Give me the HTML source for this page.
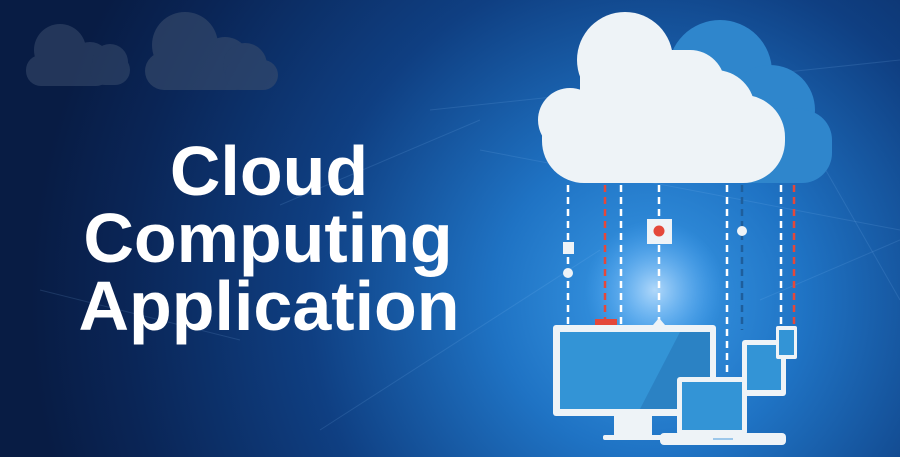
<!DOCTYPE html>
<html><head><meta charset="utf-8"><style>
html,body{margin:0;padding:0;width:900px;height:457px;overflow:hidden;background:#0a2450}
svg{display:block}
</style></head><body>
<svg width="900" height="457" viewBox="0 0 900 457" xmlns="http://www.w3.org/2000/svg">
<defs>
<radialGradient id="bg" cx="650" cy="300" r="620" gradientUnits="userSpaceOnUse">
<stop offset="0" stop-color="#3a9ae6"/>
<stop offset="0.25" stop-color="#1f73c4"/>
<stop offset="0.55" stop-color="#0f3f82"/>
<stop offset="0.85" stop-color="#0a2556"/>
<stop offset="1" stop-color="#081c44"/>
</radialGradient>
<radialGradient id="glow" cx="655" cy="290" r="70" gradientUnits="userSpaceOnUse">
<stop offset="0" stop-color="#cfe8ff" stop-opacity="0.8"/>
<stop offset="1" stop-color="#5ab0ff" stop-opacity="0"/>
</radialGradient>
</defs>
<rect width="900" height="457" fill="url(#bg)"/>
<rect width="900" height="457" fill="url(#glow)"/>
<g stroke="#8cc4f5" stroke-opacity="0.15" stroke-width="1">
<line x1="430" y1="110" x2="900" y2="60"/><line x1="480" y1="150" x2="900" y2="230"/>
<line x1="280" y1="205" x2="480" y2="120"/><line x1="320" y1="430" x2="600" y2="250"/>
<line x1="760" y1="300" x2="900" y2="240"/><line x1="820" y1="160" x2="900" y2="300"/>
<line x1="40" y1="290" x2="240" y2="340"/>
</g>
<g fill="#3a4d6d" opacity="0.55">
<circle cx="60" cy="50" r="26"/><circle cx="90" cy="62" r="20"/><rect x="26" y="55" width="85" height="31" rx="15"/>
<circle cx="110" cy="62" r="18"/><rect x="90" y="55" width="40" height="30" rx="15"/>
</g>
<g fill="#3a4d6d" opacity="0.6">
<circle cx="185" cy="45" r="33"/><circle cx="225" cy="62" r="25"/><rect x="145" y="52" width="110" height="38" rx="19"/>
<circle cx="245" cy="65" r="22"/><rect x="225" y="60" width="53" height="30" rx="15"/>
</g>
<g font-family="Liberation Sans, Arial, sans-serif" font-weight="bold" font-size="70" fill="#fff" text-anchor="middle">
<text x="269" y="195">Cloud</text>
<text x="268" y="262">Computing</text>
<text x="269" y="330">Application</text>
</g>
<g fill="#2f86cc">
<circle cx="720" cy="72" r="52"/><circle cx="770" cy="110" r="45"/><circle cx="795" cy="145" r="37"/>
<rect x="680" y="110" width="152" height="73" rx="30"/>
</g>
<g fill="#eef3f7">
<circle cx="625" cy="60" r="48"/><circle cx="570" cy="120" r="32"/><circle cx="715" cy="110" r="40"/>
<circle cx="690" cy="85" r="35"/>
<rect x="542" y="95" width="243" height="88" rx="42"/>
<rect x="580" y="50" width="110" height="100"/>
</g>
<g stroke-width="2.5" stroke-dasharray="7,5" fill="none">
<line x1="568" y1="185" x2="568" y2="326" stroke="#fff"/>
<line x1="605" y1="185" x2="605" y2="320" stroke="#e4483a"/>
<line x1="621" y1="185" x2="621" y2="326" stroke="#fff"/>
<line x1="659" y1="185" x2="659" y2="320" stroke="#fff"/>
<line x1="727" y1="185" x2="727" y2="378" stroke="#fff"/>
<line x1="742" y1="185" x2="742" y2="330" stroke="#1e5e9c"/>
<line x1="781" y1="185" x2="781" y2="326" stroke="#fff"/>
<line x1="794" y1="185" x2="794" y2="326" stroke="#e4483a"/>
</g>
<rect x="563" y="242" width="11" height="12" fill="#eef3f7"/>
<circle cx="568" cy="273" r="5" fill="#eef3f7"/>
<rect x="647" y="219" width="25" height="25" fill="#eef3f7"/>
<circle cx="659" cy="231" r="5.5" fill="#e4483a"/>
<circle cx="742" cy="231" r="5" fill="#eef3f7"/>
<rect x="595" y="319" width="22" height="7" fill="#e4483a"/>
<polygon points="653,325 659,318 665,325" fill="#eef3f7"/>
<rect x="553" y="325" width="163" height="91" rx="3" fill="#eef3f7"/>
<rect x="560" y="332" width="150" height="77" fill="#3394d6"/>
<polygon points="680,332 710,332 710,409 640,409" fill="#2b82c4"/>
<rect x="614" y="416" width="38" height="20" fill="#eef3f7"/>
<rect x="603" y="435" width="60" height="5" rx="2" fill="#eef3f7"/>
<rect x="742" y="340" width="44" height="56" rx="3" fill="#eef3f7"/>
<rect x="747" y="345" width="34" height="45" fill="#3394d6"/>
<rect x="776" y="326" width="21" height="33" rx="2" fill="#eef3f7"/>
<rect x="779" y="330" width="15" height="25" fill="#3394d6"/>
<rect x="677" y="377" width="70" height="58" rx="3" fill="#eef3f7"/>
<rect x="682" y="382" width="60" height="48" fill="#3394d6"/>
<rect x="660" y="433" width="126" height="12" rx="4" fill="#eef3f7"/>
<rect x="713" y="438" width="20" height="2" fill="#9cc7ea"/>
</svg>
</body></html>
